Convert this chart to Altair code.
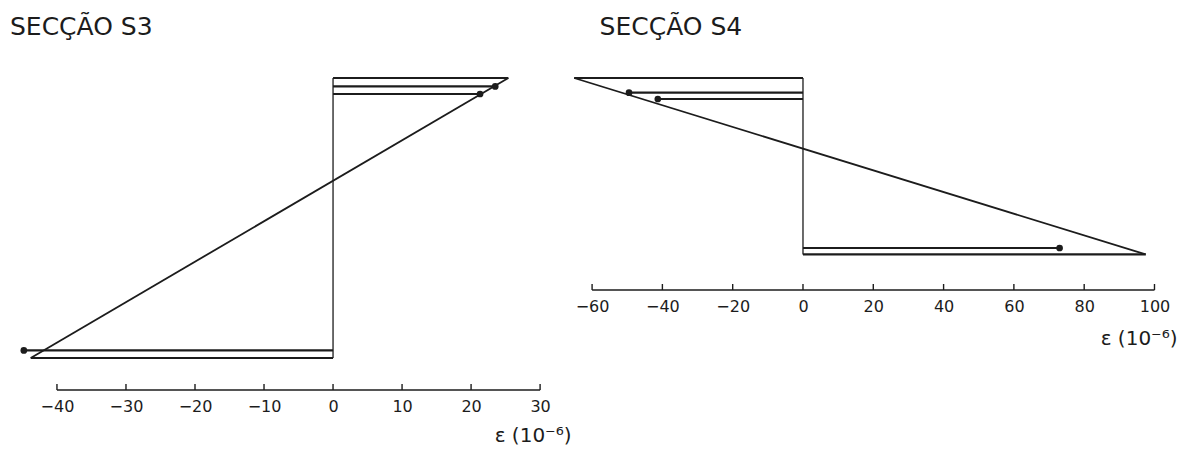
import altair as alt
import pandas as pd

INK = "#1c1c1c"
FONT = "DejaVu Sans"

# ---- Section S3 ----
s3_depth = [0.0, 0.084, 0.16, 2.724, 2.80]
s3_strain = [25.4, 23.5, 21.3, -44.8, -43.8]
s3_dot = [False, True, True, True, False]
s3_ticks = [-40, -30, -20, -10, 0, 10, 20, 30]

# ---- Section S4 ----
s4_depth = [0.0, 0.147, 0.21, 1.70, 1.764]
s4_strain = [-65.1, -49.5, -41.3, 73.0, 97.5]
s4_dot = [False, True, True, True, False]
s4_ticks = [-60, -40, -20, 0, 20, 40, 60, 80, 100]

AXIS_TITLE = "ε (10⁻⁶)"


def panel(title, depth, strain, dot, ticks, xdom, ydom, w, h, title_dx, tx, ty):
    bars = pd.DataFrame({"depth": depth, "strain": strain, "dot": dot,
                         "zero": [0] * len(depth)})
    profile = pd.DataFrame({"depth": [depth[0], depth[-1]],
                            "strain": [strain[0], strain[-1]]})
    tk = pd.DataFrame({"t": ticks})
    ax = pd.DataFrame({"a": [ticks[0]], "b": [ticks[-1]]})

    xs = alt.Scale(domain=xdom, nice=False, zero=False)
    ys = alt.Scale(domain=ydom, reverse=True, nice=False, zero=False)
    xaxis = alt.Axis(values=ticks, domain=False, ticks=False, grid=False,
                     labelFontSize=16, labelFont=FONT, labelColor=INK,
                     labelPadding=8, labelFlush=False, labelOverlap=False,
                     title=AXIS_TITLE, titleFontSize=20, titleFont=FONT,
                     titleFontWeight="normal", titleColor=INK,
                     titleAlign="right", titleBaseline="middle",
                     titleX=tx, titleY=ty, titleAnchor="end")

    axis_line = alt.Chart(ax).mark_rule(color=INK, strokeWidth=1.6).encode(
        x=alt.X("a:Q", scale=xs, axis=xaxis), x2="b:Q", y=alt.value(h))
    tick_marks = alt.Chart(tk).mark_rule(color=INK, strokeWidth=1.4).encode(
        x=alt.X("t:Q", scale=xs, axis=xaxis), y=alt.value(h), y2=alt.value(h - 6))
    vertical = alt.Chart(bars).mark_rule(color=INK, strokeWidth=1.3).encode(
        x=alt.X("zero:Q", scale=xs, axis=xaxis),
        y=alt.Y("min(depth):Q", scale=ys, axis=None), y2="max(depth):Q")
    hbars = alt.Chart(bars).mark_rule(color=INK, strokeWidth=2.2).encode(
        x=alt.X("zero:Q", scale=xs, axis=xaxis), x2="strain:Q",
        y=alt.Y("depth:Q", scale=ys, axis=None))
    line = alt.Chart(profile).mark_line(color=INK, strokeWidth=1.8).encode(
        x=alt.X("strain:Q", scale=xs, axis=xaxis),
        y=alt.Y("depth:Q", scale=ys, axis=None))
    dots = alt.Chart(bars).transform_filter("datum.dot").mark_circle(
        color=INK, size=45, opacity=1).encode(
        x=alt.X("strain:Q", scale=xs, axis=xaxis),
        y=alt.Y("depth:Q", scale=ys, axis=None))

    return alt.layer(axis_line, tick_marks, vertical, hbars, line, dots).properties(
        width=w, height=h,
        title=alt.TitleParams(title, anchor="start", dx=title_dx, fontSize=25,
                              font=FONT, fontWeight="normal", color=INK, offset=34))


p3 = panel("SECÇÃO S3", s3_depth, s3_strain, s3_dot, s3_ticks,
           [-45.5, 31.0], [0, 3.12], 528, 312, -9, 552, 45)
p4 = panel("SECÇÃO S4", s4_depth, s4_strain, s4_dot, s4_ticks,
           [-66.0, 101.0], [0, 2.12], 587, 212, 29, 606, 48)

chart = alt.hconcat(p3, p4, spacing=24, bounds="flush").properties(
    padding={"left": 2, "top": 7, "right": 0, "bottom": 0},
    background="white"
).configure_view(stroke=None, strokeWidth=0)

chart.save("out.html", embed_options={"renderer": "svg", "actions": False})
